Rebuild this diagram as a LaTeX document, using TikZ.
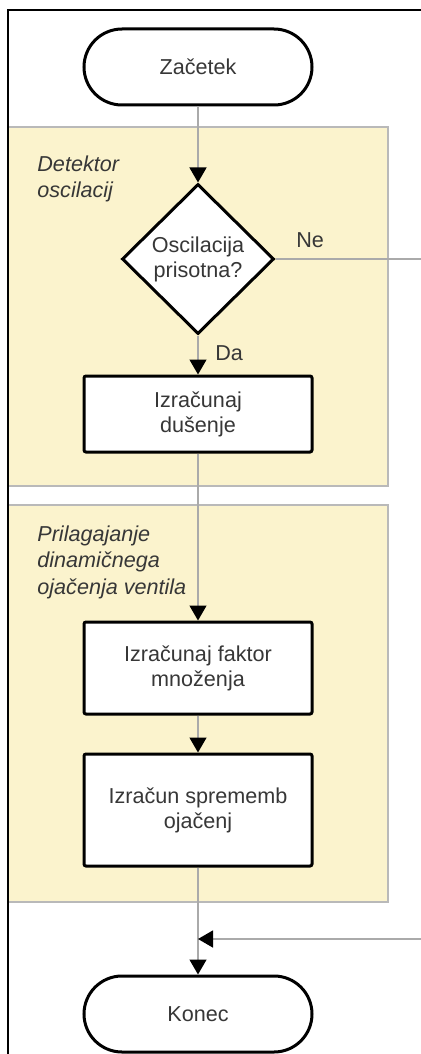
\documentclass[tikz,border=0pt]{standalone}
\usepackage{fontspec}
\setmainfont{Liberation Sans}
\usetikzlibrary{arrows.meta,shapes.geometric}
\definecolor{panelfill}{RGB}{251,243,205}
\definecolor{panelline}{RGB}{185,185,185}
\definecolor{flowline}{RGB}{170,170,170}
\definecolor{txt}{RGB}{55,55,55}

\begin{document}
\begin{tikzpicture}[x=0.5pt,y=-0.5pt,
    every node/.style={font=\fontsize{10.8}{12.5}\selectfont, text=txt},
    term/.style={draw=black, line width=1.5pt, fill=white, rounded corners=19pt,
        minimum width=114pt, minimum height=38pt, inner sep=0pt},
    box/.style={draw=black, line width=1.5pt, fill=white, rounded corners=1pt,
        minimum width=114pt, align=center, inner sep=0pt},
    decision/.style={diamond, draw=black, line width=1.5pt, fill=white,
        minimum width=76pt, minimum height=75pt, align=center, inner sep=0pt},
    panel/.style={fill=panelfill, draw=panelline, line width=0.6pt},
    group/.style={font=\fontsize{10.8}{13.4}\selectfont\itshape, align=left,
        anchor=north west, inner sep=0pt},
    flow/.style={draw=flowline, line width=0.7pt,
        -{Triangle[length=7.5pt,width=8.5pt,color=black,fill=black]}},
    link/.style={draw=flowline, line width=0.7pt}]

    \useasboundingbox (0,0) rectangle (420,1054);

    \draw [panel] (8,127) rectangle (388,486);
    \draw [panel] (8,505) rectangle (388,902);
    \draw [line width=0.7pt] (8,1060) -- (8,10) -- (426,10);

    \node [group] (det) at (37,155) {Detektor\\oscilacij};
    \node [group] (pril) at (37,525) {Prilagajanje\\dinamičnega\\ojačenja ventila};

    \node [term] (start) at (198,67) {Začetek};
    \node [decision] (osc) at (198,259) {Oscilacija\\prisotna?};
    \node [box, minimum height=38pt] (dus) at (198,414) {Izračunaj\\dušenje};
    \node [box, minimum height=46pt] (fak) at (198,668) {Izračunaj faktor\\množenja};
    \node [box, minimum height=56pt] (spr) at (198,810) {Izračun sprememb\\ojačenj};
    \node [term] (konec) at (198,1014) {Konec};

    \coordinate (ne) at (426,259);
    \coordinate (back) at (426,939);
    \coordinate (join) at (198,939);

    \draw [flow] (start) -- (osc);
    \draw [flow] (osc) -- node [pos=0.45, right=5pt] {Da} (dus);
    \draw [link] (osc.east) -- node [pos=0.23, above=2pt] {Ne} (ne);
    \draw [flow] (dus) -- (fak);
    \draw [flow] (fak) -- (spr);
    \draw [flow] (spr) -- (konec);
    \draw [flow] (back) -- (join);

\end{tikzpicture}
\end{document}
